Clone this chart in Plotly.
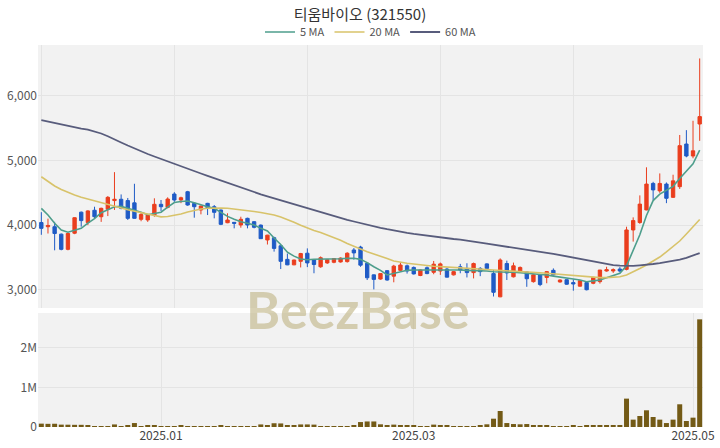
import plotly.graph_objects as go
from plotly.subplots import make_subplots

# ---- trading dates (KRX sessions) ----
dec_days = [4, 5, 6, 9, 10, 11, 12, 13, 16, 17, 18, 19, 20, 23, 24, 26, 27, 30]
jan_days = [2, 3, 6, 7, 8, 9, 10, 13, 14, 15, 16, 17, 20, 21, 22, 23, 24, 31]
feb_days = [3, 4, 5, 6, 7, 10, 11, 12, 13, 14, 17, 18, 19, 20, 21, 24, 25, 26, 27, 28]
mar_days = [4, 5, 6, 7, 10, 11, 12, 13, 14, 17, 18, 19, 20, 21, 24, 25, 26, 27, 28, 31]
apr_days = [1, 2, 3, 4, 7, 8, 9, 10, 11, 14, 15, 16, 17, 18, 21, 22, 23, 24, 25, 28, 29, 30]
may_days = [2, 7]

dates = ([f"2024-12-{d:02d}" for d in dec_days] + [f"2025-01-{d:02d}" for d in jan_days] +
         [f"2025-02-{d:02d}" for d in feb_days] + [f"2025-03-{d:02d}" for d in mar_days] +
         [f"2025-04-{d:02d}" for d in apr_days] + [f"2025-05-{d:02d}" for d in may_days])

opens = [4040, 3975, 3975, 3860, 3625, 3875, 4200, 4040, 4230, 4130,
         4245, 4380, 4400, 4380, 4345, 4090, 4080, 4156, 4322, 4275,
         4481, 4389, 4517, 4337, 4234, 4337, 4285, 4234, 4037, 4043,
         4002, 4105, 4053, 4000, 3770, 3805, 3680, 3470, 3385, 3440,
         3565, 3460, 3355, 3415, 3425, 3430, 3435, 3615, 3660, 3410,
         3230, 3165, 3295, 3210, 3300, 3370, 3345, 3220, 3340, 3270,
         3290, 3320, 3230, 3355, 3330, 3265, 3330, 3400, 3250, 2890,
         3405, 3200, 3290, 3275, 3125, 3230, 3190, 3300, 3120, 3155,
         3110, 3055, 3110, 3100, 3125, 3290, 3290, 3320, 3315, 3925,
         4040, 4235, 4645, 4530, 4635, 4430, 4595, 5255, 5070, 5565]
highs = [4200, 4100, 4050, 3870, 3880, 4120, 4210, 4230, 4285, 4270,
         4450, 4820, 4475, 4420, 4640, 4190, 4165, 4415, 4389, 4430,
         4510, 4440, 4530, 4345, 4300, 4345, 4311, 4240, 4183, 4045,
         4130, 4115, 4060, 4010, 3850, 3820, 3690, 3560, 3465, 3570,
         3640, 3465, 3515, 3470, 3490, 3500, 3580, 3645, 3680, 3415,
         3235, 3255, 3300, 3385, 3420, 3390, 3360, 3315, 3360, 3445,
         3420, 3340, 3290, 3400, 3410, 3420, 3350, 3410, 3305, 3485,
         3450, 3420, 3360, 3280, 3240, 3240, 3290, 3330, 3160, 3160,
         3160, 3145, 3120, 3200, 3305, 3355, 3330, 3350, 3975, 4120,
         4460, 4895, 4670, 4800, 4660, 4780, 5395, 5470, 5615, 6580]
lows = [3850, 3870, 3610, 3610, 3610, 3860, 3975, 4000, 4105, 4050,
        4140, 4235, 4245, 4080, 4100, 4060, 4050, 4130, 4218, 4260,
        4360, 4340, 4300, 4115, 4167, 4156, 4105, 4000, 4030, 3950,
        3960, 3950, 3950, 3785, 3700, 3590, 3320, 3380, 3380, 3345,
        3350, 3255, 3340, 3400, 3410, 3420, 3420, 3465, 3355, 3150,
        3005, 3155, 3140, 3115, 3290, 3250, 3235, 3210, 3240, 3240,
        3230, 3190, 3220, 3255, 3190, 3175, 3210, 3320, 2895, 2885,
        3150, 3190, 3260, 3045, 3110, 3055, 3100, 3220, 3110, 3075,
        2985, 3050, 2990, 3085, 3095, 3280, 3260, 3270, 3300, 3745,
        4020, 4230, 4390, 4500, 4340, 4420, 4560, 5050, 5035, 5305]
closes = [3950, 3995, 3870, 3625, 3870, 4115, 4070, 4220, 4130, 4260,
          4430, 4400, 4260, 4105, 4105, 4165, 4155, 4322, 4285, 4404,
          4389, 4424, 4311, 4285, 4296, 4270, 4198, 4012, 4079, 4028,
          4090, 4002, 3966, 3790, 3845, 3640, 3440, 3385, 3460, 3560,
          3415, 3390, 3495, 3465, 3482, 3490, 3565, 3570, 3380, 3185,
          3160, 3250, 3150, 3365, 3382, 3290, 3245, 3305, 3250, 3395,
          3400, 3195, 3280, 3305, 3265, 3405, 3280, 3330, 2960, 3460,
          3260, 3370, 3345, 3170, 3230, 3080, 3280, 3230, 3150, 3085,
          3090, 3140, 3000, 3190, 3305, 3310, 3310, 3290, 3925, 4070,
          4325, 4635, 4545, 4645, 4415, 4685, 5230, 5070, 5150, 5680]

ma5 = [4260, 4156, 4028, 3924, 3890, 3924, 3950, 4030, 4100, 4192,
       4234, 4285, 4290, 4260, 4234, 4198, 4160, 4175, 4200, 4280,
       4350, 4365, 4373, 4345, 4311, 4285, 4260, 4200, 4135, 4090,
       4053, 4030, 4002, 3950, 3910, 3800, 3700, 3580, 3520, 3475,
       3465, 3471, 3471, 3471, 3475, 3480, 3486, 3486, 3470, 3420,
       3355, 3300, 3228, 3250, 3275, 3300, 3305, 3305, 3305, 3305,
       3310, 3312, 3314, 3305, 3300, 3300, 3300, 3290, 3279, 3279,
       3279, 3270, 3262, 3254, 3245, 3236, 3228, 3210, 3192, 3178,
       3165, 3150, 3124, 3137, 3150, 3185, 3215, 3254, 3370, 3600,
       3850, 4150, 4380, 4480, 4540, 4600, 4720, 4840, 4950, 5160]
ma20 = [4749, 4675, 4605, 4551, 4505, 4466, 4432, 4404, 4373, 4342,
        4314, 4286, 4260, 4237, 4215, 4195, 4164, 4144, 4128, 4133,
        4149, 4172, 4203, 4229, 4249, 4262, 4268, 4265, 4262, 4252,
        4237, 4221, 4211, 4195, 4180, 4156, 4125, 4087, 4043, 3997,
        3955, 3916, 3884, 3847, 3808, 3765, 3715, 3669, 3627, 3587,
        3553, 3522, 3483, 3444, 3421, 3409, 3398, 3385, 3373, 3364,
        3358, 3353, 3348, 3344, 3336, 3328, 3320, 3313, 3305, 3300,
        3296, 3291, 3285, 3279, 3271, 3262, 3254, 3246, 3238, 3229,
        3218, 3207, 3197, 3190, 3187, 3187, 3192, 3201, 3228, 3274,
        3328, 3382, 3444, 3506, 3584, 3666, 3754, 3862, 3971, 4087]
ma60 = [5627, 5604, 5580, 5557, 5534, 5514, 5495, 5478, 5449, 5418,
        5375, 5333, 5279, 5232, 5186, 5139, 5101, 5062, 5023, 4988,
        4949, 4912, 4876, 4837, 4799, 4763, 4726, 4689, 4655, 4618,
        4581, 4546, 4512, 4477, 4446, 4415, 4384, 4353, 4322, 4291,
        4260, 4229, 4198, 4167, 4138, 4110, 4082, 4056, 4029, 4005,
        3981, 3958, 3937, 3915, 3896, 3881, 3865, 3850, 3834, 3819,
        3807, 3796, 3785, 3776, 3763, 3748, 3729, 3712, 3695, 3680,
        3664, 3649, 3633, 3618, 3602, 3587, 3571, 3556, 3537, 3517,
        3497, 3475, 3454, 3433, 3415, 3398, 3382, 3373, 3370, 3370,
        3378, 3385, 3398, 3413, 3429, 3447, 3467, 3494, 3528, 3568]

volumes = [85000, 80000, 82000, 60000, 58000, 55000, 55000, 50000, 25000, 22000,
           25000, 65000, 25000, 28000, 100000, 25000, 28000, 50000, 25000, 20000,
           22000, 50000, 22000, 20000, 25000, 22000, 20000, 42000, 20000, 18000,
           20000, 22000, 25000, 65000, 45000, 95000, 90000, 50000, 35000, 65000,
           65000, 60000, 22000, 20000, 20000, 18000, 20000, 30000, 125000, 140000,
           140000, 68000, 40000, 60000, 40000, 35000, 35000, 25000, 25000, 60000,
           40000, 35000, 25000, 25000, 25000, 25000, 35000, 68000, 210000, 405000,
           100000, 75000, 68000, 75000, 42000, 42000, 42000, 25000, 25000, 25000,
           50000, 25000, 50000, 50000, 35000, 35000, 35000, 42000, 717000, 186000,
           278000, 422000, 253000, 186000, 100000, 186000, 574000, 152000, 236000, 2720000]

month_ticks = ["2025-01-02", "2025-03-04", "2025-05-02"]
month_labels = ["2025.01", "2025.03", "2025.05"]
price_ticks = [3000, 4000, 5000, 6000]
vol_ticks = [0, 1000000, 2000000]

RED = "#EA3E1E"
BLUE = "#1F5BC6"
FONT = "Noto Sans CJK KR"

fig = make_subplots(rows=2, cols=1, shared_xaxes=True, vertical_spacing=0.013,
                    row_heights=[0.69, 0.31])

fig.add_trace(go.Candlestick(
    x=dates, open=opens, high=highs, low=lows, close=closes,
    increasing=dict(line=dict(color=RED, width=1), fillcolor=RED),
    decreasing=dict(line=dict(color=BLUE, width=1), fillcolor=BLUE),
    showlegend=False, name="price"), row=1, col=1)

fig.add_trace(go.Scatter(x=dates, y=ma5, mode="lines", name="5 MA",
                         line=dict(color="#4E9E8C", width=1.6)), row=1, col=1)
fig.add_trace(go.Scatter(x=dates, y=ma20, mode="lines", name="20 MA",
                         line=dict(color="#D8C36A", width=1.6)), row=1, col=1)
fig.add_trace(go.Scatter(x=dates, y=ma60, mode="lines", name="60 MA",
                         line=dict(color="#585C7C", width=1.8)), row=1, col=1)

fig.add_trace(go.Bar(x=dates, y=volumes, marker=dict(color="#735A16", line=dict(width=0)),
                     showlegend=False, name="volume"), row=2, col=1)

grid = "#E4E4E4"
fig.update_layout(
    width=720, height=448,
    margin=dict(l=38, r=17, t=45, b=21, autoexpand=False),
    paper_bgcolor="white", plot_bgcolor="#F2F2F2",
    font=dict(family=FONT, size=12, color="#444"),
    title=dict(text="티움바이오 (321550)", x=0.5, xanchor="center", y=0.966, yanchor="middle",
               font=dict(family=FONT, size=15, color="#333")),
    legend=dict(orientation="h", x=0.5, xanchor="center", y=1.034, yanchor="middle",
                font=dict(size=11, color="#555"), bgcolor="rgba(0,0,0,0)"),
    bargap=0.25,
    boxgap=0.28,
    showlegend=True,
)

fig.update_xaxes(type="category", showgrid=True, gridcolor=grid, gridwidth=1, automargin=False,
                 zeroline=False, showline=False, rangeslider=dict(visible=False))
fig.update_xaxes(tickmode="array", tickvals=dates[0::20], showticklabels=False,
                 ticks="", row=1, col=1)
fig.update_xaxes(tickmode="array", tickvals=month_ticks, ticktext=month_labels,
                 showticklabels=True, ticks="", tickfont=dict(size=12, color="#444"), row=2, col=1)

fig.update_yaxes(range=[2717, 6788], tickmode="array", tickvals=price_ticks, tickformat=",",
                 showgrid=True, gridcolor=grid, zeroline=False, ticks="", automargin=False,
                 domain=[0.3115, 1.0],
                 tickfont=dict(size=12, color="#555"), row=1, col=1)
fig.update_yaxes(range=[0, 2880000], tickmode="array", tickvals=vol_ticks, tickformat="~s",
                 showgrid=True, gridcolor=grid, zeroline=False, ticks="", automargin=False,
                 domain=[0.0, 0.2984],
                 tickfont=dict(size=12, color="#555"), row=2, col=1)

fig.add_annotation(text="<b>BeezBase</b>", xref="paper", yref="paper", x=0.481, y=0.31,
                   xanchor="center", yanchor="middle", showarrow=False,
                   font=dict(family="Lato", size=52, color="rgba(190,178,130,0.6)"))

fig.write_html("out.html", config={"displayModeBar": False},
               post_script="document.body.style.margin='0';")
